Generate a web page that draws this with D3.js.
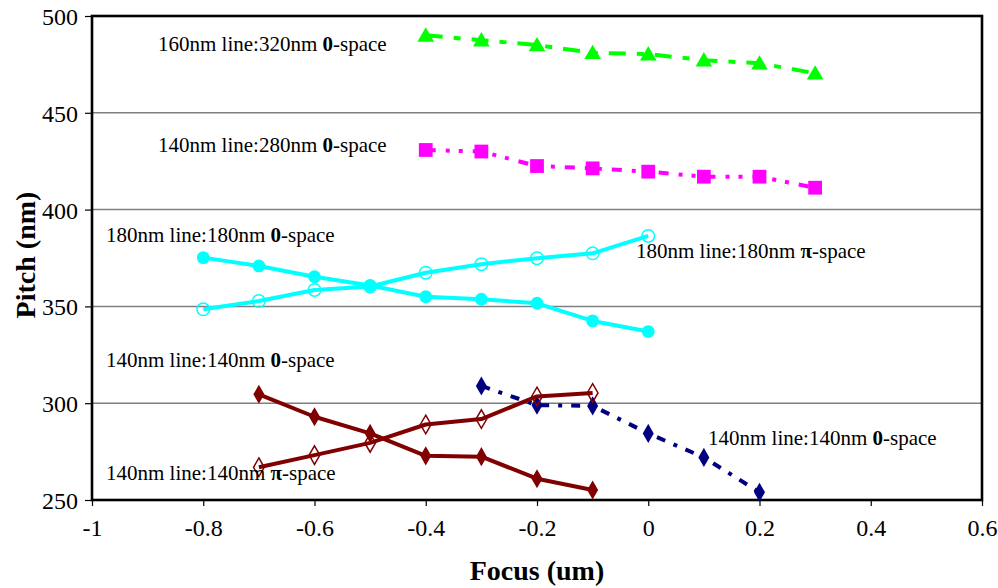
<!DOCTYPE html>
<html>
<head>
<meta charset="utf-8">
<script src="https://cdn.jsdelivr.net/npm/d3@7"></script>
<style>
  html, body { margin: 0; padding: 0; background: #fff; }
  svg { display: block; }
  svg text { font-family: "Liberation Serif", "Times New Roman", "DejaVu Serif", serif; }
</style>
</head>
<body>
<svg id="chart" width="998" height="588"></svg>
<script>
const SERIF = "'Liberation Serif', 'Times New Roman', 'DejaVu Serif', serif";

// Focus positions (um) for each series
const focusA = [-0.4, -0.3, -0.2, -0.1, 0, 0.1, 0.2, 0.3];
const focusB = [-0.8, -0.7, -0.6, -0.5, -0.4, -0.3, -0.2, -0.1, 0];
const focusC = [-0.7, -0.6, -0.5, -0.4, -0.3, -0.2, -0.1];
const focusD = [-0.3, -0.2, -0.1, 0, 0.1, 0.2];

// Measured pitch (nm)
const pitch160_320 = [490, 487.5, 485, 481, 480.3, 477.2, 475.6, 470.4];
const pitch140_280 = [430.8, 430, 422.5, 421.3, 419.6, 417, 417, 411.3];
const pitch180_0 = [375.2, 370.9, 365.3, 360.8, 355, 353.7, 351.6, 342.5, 337];
const pitch180_pi = [348.5, 352.8, 358.5, 360.3, 367.4, 371.8, 374.9, 377.4, 386.4];
const pitch140_0 = [304.6, 293, 284.4, 272.8, 272.4, 261, 255.2];
const pitch140_pi = [266.9, 273.2, 279.5, 289, 291.8, 303.5, 305.3];
const pitch140_0b = [308.9, 299, 298.6, 284.4, 272, 254];

// Axis ticks
const xTicks = [-1, -0.8, -0.6, -0.4, -0.2, 0, 0.2, 0.4, 0.6];
const yTicks = [250, 300, 350, 400, 450, 500];

const series = [
  { x: focusA, y: pitch160_320, color: "#00FF00", dash: "17,11,7,11", marker: "triangle", fill: true },
  { x: focusA, y: pitch140_280, color: "#FF00FF", dash: "10,10,4,9,4,10", marker: "square", fill: true },
  { x: focusB, y: pitch180_0, color: "#00FFFF", dash: null, marker: "circle", fill: true },
  { x: focusB, y: pitch180_pi, color: "#00FFFF", dash: null, marker: "circle", fill: false },
  { x: focusD, y: pitch140_0b, color: "#000080", dash: "9,9,4,9", marker: "diamond", fill: true },
  { x: focusC, y: pitch140_0, color: "#800000", dash: null, marker: "diamond", fill: true },
  { x: focusC, y: pitch140_pi, color: "#800000", dash: null, marker: "diamond", fill: false }
];

const labels = [
  { pre: "160nm line:320nm ", sym: "0", x: -0.8813, y: 482 },
  { pre: "140nm line:280nm ", sym: "0", x: -0.8813, y: 429.8 },
  { pre: "180nm line:180nm ", sym: "0", x: -0.9748, y: 383.2 },
  { pre: "180nm line:180nm ", sym: "\u03C0", x: -0.022, y: 375 },
  { pre: "140nm line:140nm ", sym: "0", x: -0.9748, y: 318.7 },
  { pre: "140nm line:140nm ", sym: "\u03C0", x: -0.9748, y: 260.5 },
  { pre: "140nm line:140nm ", sym: "0", x: 0.1074, y: 278.5 }
];

const svg = d3.select("#chart");
const plot = { left: 92, right: 982, top: 16, bottom: 500 };

const x = d3.scaleLinear().domain([-1, 0.6]).range([plot.left, plot.right]);
const y = d3.scaleLinear().domain([250, 500]).range([plot.bottom, plot.top]);

// horizontal gridlines
svg.append("g")
  .selectAll("line")
  .data(yTicks.slice(1, -1))
  .join("line")
  .attr("x1", plot.left).attr("x2", plot.right)
  .attr("y1", d => y(d)).attr("y2", d => y(d))
  .attr("stroke", "#7f7f7f").attr("stroke-width", 1.5);

// axes
const xAxis = svg.append("g")
  .attr("transform", `translate(0,${plot.bottom})`)
  .call(d3.axisBottom(x).tickValues(xTicks).tickSize(6).tickSizeOuter(0)
    .tickFormat(d => String(d)));
const yAxis = svg.append("g")
  .attr("transform", `translate(${plot.left},0)`)
  .call(d3.axisLeft(y).tickValues(yTicks).tickSize(7).tickSizeOuter(0)
    .tickFormat(d => String(d)));

[xAxis, yAxis].forEach(g => {
  g.attr("font-family", SERIF).attr("font-size", 24);
  g.select(".domain").remove();
  g.selectAll(".tick line").attr("stroke", "#000").attr("stroke-width", 1.2);
  g.selectAll(".tick text").attr("fill", "#000").attr("font-family", SERIF);
});
xAxis.selectAll(".tick text").attr("dy", null).attr("y", 36);
yAxis.selectAll(".tick text").attr("dy", "0.35em").attr("x", -14);

// plot frame
svg.append("rect")
  .attr("x", plot.left).attr("y", plot.top)
  .attr("width", plot.right - plot.left).attr("height", plot.bottom - plot.top)
  .attr("fill", "none").attr("stroke", "#000").attr("stroke-width", 2.6);

// series lines and markers
const line = d3.line().x(d => x(d[0])).y(d => y(d[1]));
const symbolTypes = {
  triangle: { type: d3.symbolTriangle, size: 120 },
  square: { type: d3.symbolSquare, size: 190 },
  circle: { type: d3.symbolCircle, size: 130 },
  diamond: { type: d3.symbolDiamond, size: 105 }
};

series.forEach(s => {
  const pts = s.x.map((v, i) => [v, s.y[i]]);
  const g = svg.append("g");
  g.append("path")
    .datum(pts)
    .attr("d", line)
    .attr("fill", "none")
    .attr("stroke", s.color)
    .attr("stroke-width", 4)
    .attr("stroke-dasharray", s.dash)
    .attr("stroke-linejoin", "round");
  const sym = symbolTypes[s.marker];
  const shape = d3.symbol().type(sym.type).size(s.fill ? sym.size : sym.size * 0.95);
  g.selectAll("path.marker")
    .data(pts)
    .join("path")
    .attr("class", "marker")
    .attr("d", shape)
    .attr("transform", d => `translate(${x(d[0])},${y(d[1]) + (s.marker === "triangle" ? 1.5 : 0)})`)
    .attr("fill", s.fill ? s.color : "none")
    .attr("stroke", s.color)
    .attr("stroke-width", s.fill ? 0 : 1.5);
});

// series annotations
const ann = svg.append("g").attr("font-family", SERIF).attr("font-size", 21).attr("fill", "#000");
labels.forEach(l => {
  const t = ann.append("text").attr("x", x(l.x)).attr("y", y(l.y)).attr("font-family", SERIF);
  t.append("tspan").text(l.pre);
  t.append("tspan").attr("font-weight", "bold").text(l.sym);
  t.append("tspan").text("-space");
});

// axis titles
svg.append("text")
  .attr("x", (plot.left + plot.right) / 2).attr("y", 580)
  .attr("text-anchor", "middle").attr("font-family", SERIF)
  .attr("font-weight", "bold").attr("font-size", 28)
  .text("Focus (um)");
svg.append("text")
  .attr("transform", `translate(35,${(plot.top + plot.bottom) / 2 - 3}) rotate(-90)`)
  .attr("text-anchor", "middle").attr("font-family", SERIF)
  .attr("font-weight", "bold").attr("font-size", 28)
  .text("Pitch (nm)");
</script>
</body>
</html>
